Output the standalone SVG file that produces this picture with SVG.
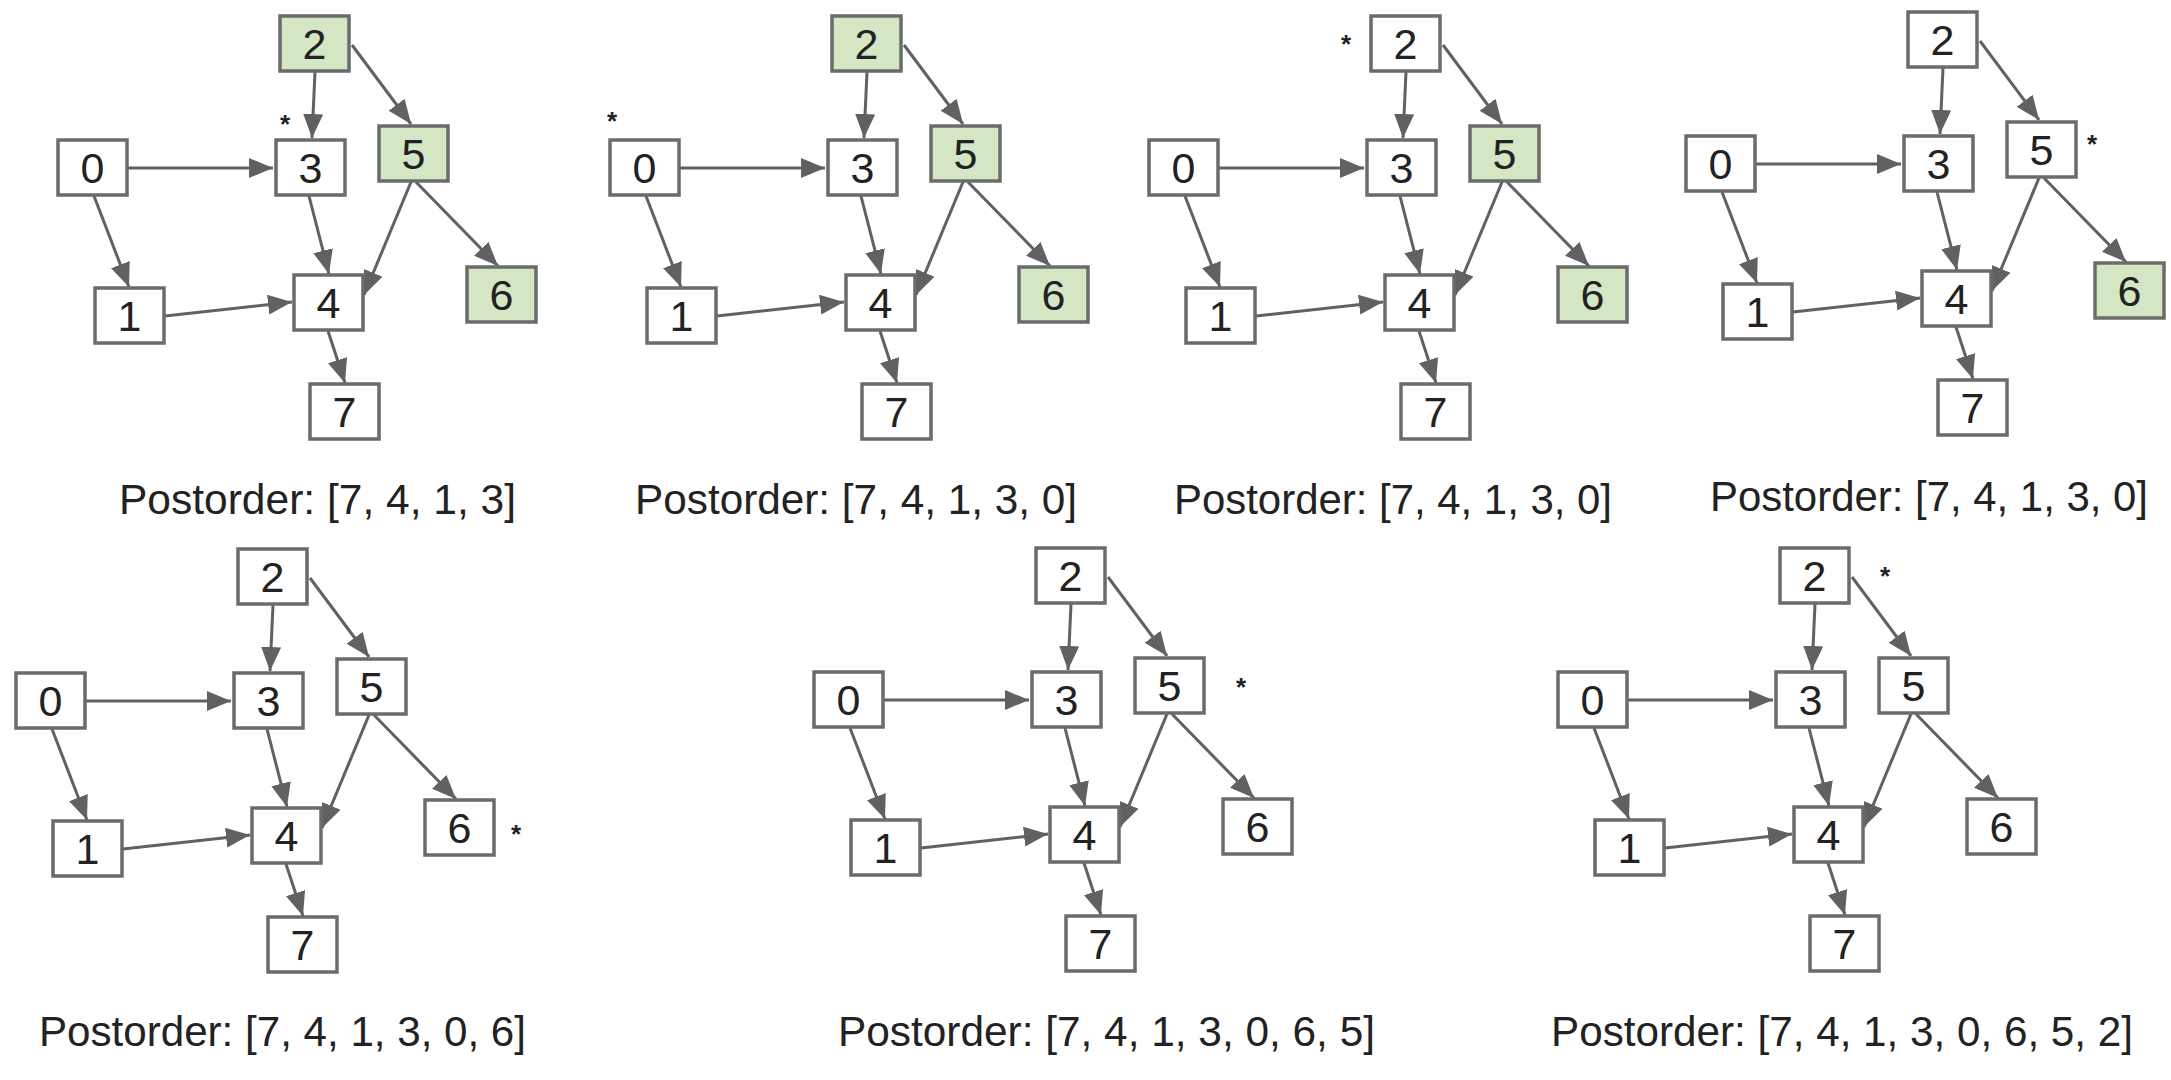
<svg xmlns="http://www.w3.org/2000/svg" width="2171" height="1080" viewBox="0 0 2171 1080">
<style>
.bg{fill:#ffffff}
.box{fill:#ffffff;stroke:#6b6b6b;stroke-width:3.5}
.box.g{fill:#d5e6c4}
.lbl{font-family:"Liberation Sans",Arial,sans-serif;font-size:43px;fill:#222222;text-anchor:middle}
.edge{stroke:#616161;stroke-width:3;fill:none}
.star{font-family:"Liberation Sans",Arial,sans-serif;font-size:26px;font-weight:bold;fill:#222222;text-anchor:middle}
.cap{font-family:"Liberation Sans",Arial,sans-serif;font-size:42px;fill:#222222}
</style>
<defs>
<marker id="ah" markerUnits="userSpaceOnUse" markerWidth="26" markerHeight="22" refX="24" refY="10" orient="auto">
<path d="M0,0 L24,10 L0,20 z" fill="#616161"/>
</marker>
<g id="edges">
<line class="edge" x1="315" y1="72" x2="312" y2="138" marker-end="url(#ah)"/>
<line class="edge" x1="352" y1="45" x2="411" y2="124" marker-end="url(#ah)"/>
<line class="edge" x1="127" y1="168" x2="273" y2="168" marker-end="url(#ah)"/>
<line class="edge" x1="94" y1="196" x2="129" y2="287" marker-end="url(#ah)"/>
<line class="edge" x1="309" y1="196" x2="329" y2="274" marker-end="url(#ah)"/>
<line class="edge" x1="411" y1="182" x2="364" y2="295" marker-end="url(#ah)"/>
<line class="edge" x1="416" y1="182" x2="498" y2="266" marker-end="url(#ah)"/>
<line class="edge" x1="165" y1="316" x2="292" y2="302" marker-end="url(#ah)"/>
<line class="edge" x1="328" y1="331" x2="345" y2="383" marker-end="url(#ah)"/>
</g>
</defs>
<rect class="bg" x="0" y="0" width="2171" height="1080"/>

<!-- Panel 1 -->
<g id="panel1" transform="translate(0,0)">
<g id="p1-connectors"><use href="#edges"/></g>
<g id="p1-n0"><rect class="box" x="58" y="140" width="69" height="55"/><text class="lbl" x="92.5" y="183">0</text></g>
<g id="p1-n1"><rect class="box" x="95" y="288" width="69" height="55"/><text class="lbl" x="129.5" y="331">1</text></g>
<g id="p1-n2"><rect class="box g" x="280" y="16" width="69" height="55"/><text class="lbl" x="314.5" y="59">2</text></g>
<g id="p1-n3"><rect class="box" x="276" y="140" width="69" height="55"/><text class="lbl" x="310.5" y="183">3</text></g>
<g id="p1-n4"><rect class="box" x="294" y="275" width="69" height="55"/><text class="lbl" x="328.5" y="318">4</text></g>
<g id="p1-n5"><rect class="box g" x="379" y="126" width="69" height="55"/><text class="lbl" x="413.5" y="169">5</text></g>
<g id="p1-n6"><rect class="box g" x="467" y="267" width="69" height="55"/><text class="lbl" x="501.5" y="310">6</text></g>
<g id="p1-n7"><rect class="box" x="310" y="384" width="69" height="55"/><text class="lbl" x="344.5" y="427">7</text></g>
<text class="star" x="285" y="133">*</text>
</g>

<!-- Panel 2 -->
<g id="panel2" transform="translate(552,0)">
<g id="p2-connectors"><use href="#edges"/></g>
<g id="p2-n0"><rect class="box" x="58" y="140" width="69" height="55"/><text class="lbl" x="92.5" y="183">0</text></g>
<g id="p2-n1"><rect class="box" x="95" y="288" width="69" height="55"/><text class="lbl" x="129.5" y="331">1</text></g>
<g id="p2-n2"><rect class="box g" x="280" y="16" width="69" height="55"/><text class="lbl" x="314.5" y="59">2</text></g>
<g id="p2-n3"><rect class="box" x="276" y="140" width="69" height="55"/><text class="lbl" x="310.5" y="183">3</text></g>
<g id="p2-n4"><rect class="box" x="294" y="275" width="69" height="55"/><text class="lbl" x="328.5" y="318">4</text></g>
<g id="p2-n5"><rect class="box g" x="379" y="126" width="69" height="55"/><text class="lbl" x="413.5" y="169">5</text></g>
<g id="p2-n6"><rect class="box g" x="467" y="267" width="69" height="55"/><text class="lbl" x="501.5" y="310">6</text></g>
<g id="p2-n7"><rect class="box" x="310" y="384" width="69" height="55"/><text class="lbl" x="344.5" y="427">7</text></g>
<text class="star" x="60" y="130">*</text>
</g>

<!-- Panel 3 -->
<g id="panel3" transform="translate(1091,0)">
<g id="p3-connectors"><use href="#edges"/></g>
<g id="p3-n0"><rect class="box" x="58" y="140" width="69" height="55"/><text class="lbl" x="92.5" y="183">0</text></g>
<g id="p3-n1"><rect class="box" x="95" y="288" width="69" height="55"/><text class="lbl" x="129.5" y="331">1</text></g>
<g id="p3-n2"><rect class="box" x="280" y="16" width="69" height="55"/><text class="lbl" x="314.5" y="59">2</text></g>
<g id="p3-n3"><rect class="box" x="276" y="140" width="69" height="55"/><text class="lbl" x="310.5" y="183">3</text></g>
<g id="p3-n4"><rect class="box" x="294" y="275" width="69" height="55"/><text class="lbl" x="328.5" y="318">4</text></g>
<g id="p3-n5"><rect class="box g" x="379" y="126" width="69" height="55"/><text class="lbl" x="413.5" y="169">5</text></g>
<g id="p3-n6"><rect class="box g" x="467" y="267" width="69" height="55"/><text class="lbl" x="501.5" y="310">6</text></g>
<g id="p3-n7"><rect class="box" x="310" y="384" width="69" height="55"/><text class="lbl" x="344.5" y="427">7</text></g>
<text class="star" x="255" y="53">*</text>
</g>

<!-- Panel 4 -->
<g id="panel4" transform="translate(1628,-4)">
<g id="p4-connectors"><use href="#edges"/></g>
<g id="p4-n0"><rect class="box" x="58" y="140" width="69" height="55"/><text class="lbl" x="92.5" y="183">0</text></g>
<g id="p4-n1"><rect class="box" x="95" y="288" width="69" height="55"/><text class="lbl" x="129.5" y="331">1</text></g>
<g id="p4-n2"><rect class="box" x="280" y="16" width="69" height="55"/><text class="lbl" x="314.5" y="59">2</text></g>
<g id="p4-n3"><rect class="box" x="276" y="140" width="69" height="55"/><text class="lbl" x="310.5" y="183">3</text></g>
<g id="p4-n4"><rect class="box" x="294" y="275" width="69" height="55"/><text class="lbl" x="328.5" y="318">4</text></g>
<g id="p4-n5"><rect class="box" x="379" y="126" width="69" height="55"/><text class="lbl" x="413.5" y="169">5</text></g>
<g id="p4-n6"><rect class="box g" x="467" y="267" width="69" height="55"/><text class="lbl" x="501.5" y="310">6</text></g>
<g id="p4-n7"><rect class="box" x="310" y="384" width="69" height="55"/><text class="lbl" x="344.5" y="427">7</text></g>
<text class="star" x="464" y="157">*</text>
</g>

<!-- Panel 5 -->
<g id="panel5" transform="translate(-42,533)">
<g id="p5-connectors"><use href="#edges"/></g>
<g id="p5-n0"><rect class="box" x="58" y="140" width="69" height="55"/><text class="lbl" x="92.5" y="183">0</text></g>
<g id="p5-n1"><rect class="box" x="95" y="288" width="69" height="55"/><text class="lbl" x="129.5" y="331">1</text></g>
<g id="p5-n2"><rect class="box" x="280" y="16" width="69" height="55"/><text class="lbl" x="314.5" y="59">2</text></g>
<g id="p5-n3"><rect class="box" x="276" y="140" width="69" height="55"/><text class="lbl" x="310.5" y="183">3</text></g>
<g id="p5-n4"><rect class="box" x="294" y="275" width="69" height="55"/><text class="lbl" x="328.5" y="318">4</text></g>
<g id="p5-n5"><rect class="box" x="379" y="126" width="69" height="55"/><text class="lbl" x="413.5" y="169">5</text></g>
<g id="p5-n6"><rect class="box" x="467" y="267" width="69" height="55"/><text class="lbl" x="501.5" y="310">6</text></g>
<g id="p5-n7"><rect class="box" x="310" y="384" width="69" height="55"/><text class="lbl" x="344.5" y="427">7</text></g>
<text class="star" x="558" y="310">*</text>
</g>

<!-- Panel 6 -->
<g id="panel6" transform="translate(756,532)">
<g id="p6-connectors"><use href="#edges"/></g>
<g id="p6-n0"><rect class="box" x="58" y="140" width="69" height="55"/><text class="lbl" x="92.5" y="183">0</text></g>
<g id="p6-n1"><rect class="box" x="95" y="288" width="69" height="55"/><text class="lbl" x="129.5" y="331">1</text></g>
<g id="p6-n2"><rect class="box" x="280" y="16" width="69" height="55"/><text class="lbl" x="314.5" y="59">2</text></g>
<g id="p6-n3"><rect class="box" x="276" y="140" width="69" height="55"/><text class="lbl" x="310.5" y="183">3</text></g>
<g id="p6-n4"><rect class="box" x="294" y="275" width="69" height="55"/><text class="lbl" x="328.5" y="318">4</text></g>
<g id="p6-n5"><rect class="box" x="379" y="126" width="69" height="55"/><text class="lbl" x="413.5" y="169">5</text></g>
<g id="p6-n6"><rect class="box" x="467" y="267" width="69" height="55"/><text class="lbl" x="501.5" y="310">6</text></g>
<g id="p6-n7"><rect class="box" x="310" y="384" width="69" height="55"/><text class="lbl" x="344.5" y="427">7</text></g>
<text class="star" x="485" y="164">*</text>
</g>

<!-- Panel 7 -->
<g id="panel7" transform="translate(1500,532)">
<g id="p7-connectors"><use href="#edges"/></g>
<g id="p7-n0"><rect class="box" x="58" y="140" width="69" height="55"/><text class="lbl" x="92.5" y="183">0</text></g>
<g id="p7-n1"><rect class="box" x="95" y="288" width="69" height="55"/><text class="lbl" x="129.5" y="331">1</text></g>
<g id="p7-n2"><rect class="box" x="280" y="16" width="69" height="55"/><text class="lbl" x="314.5" y="59">2</text></g>
<g id="p7-n3"><rect class="box" x="276" y="140" width="69" height="55"/><text class="lbl" x="310.5" y="183">3</text></g>
<g id="p7-n4"><rect class="box" x="294" y="275" width="69" height="55"/><text class="lbl" x="328.5" y="318">4</text></g>
<g id="p7-n5"><rect class="box" x="379" y="126" width="69" height="55"/><text class="lbl" x="413.5" y="169">5</text></g>
<g id="p7-n6"><rect class="box" x="467" y="267" width="69" height="55"/><text class="lbl" x="501.5" y="310">6</text></g>
<g id="p7-n7"><rect class="box" x="310" y="384" width="69" height="55"/><text class="lbl" x="344.5" y="427">7</text></g>
<text class="star" x="385" y="53">*</text>
</g>

<g id="captions">
<text class="cap" x="119" y="514" textLength="397" lengthAdjust="spacingAndGlyphs">Postorder: [7, 4, 1, 3]</text>
<text class="cap" x="635" y="514" textLength="442" lengthAdjust="spacingAndGlyphs">Postorder: [7, 4, 1, 3, 0]</text>
<text class="cap" x="1174" y="514" textLength="438" lengthAdjust="spacingAndGlyphs">Postorder: [7, 4, 1, 3, 0]</text>
<text class="cap" x="1710" y="511" textLength="438" lengthAdjust="spacingAndGlyphs">Postorder: [7, 4, 1, 3, 0]</text>
<text class="cap" x="39" y="1046" textLength="487" lengthAdjust="spacingAndGlyphs">Postorder: [7, 4, 1, 3, 0, 6]</text>
<text class="cap" x="838" y="1046" textLength="537" lengthAdjust="spacingAndGlyphs">Postorder: [7, 4, 1, 3, 0, 6, 5]</text>
<text class="cap" x="1551" y="1046" textLength="582" lengthAdjust="spacingAndGlyphs">Postorder: [7, 4, 1, 3, 0, 6, 5, 2]</text>
</g>
</svg>
